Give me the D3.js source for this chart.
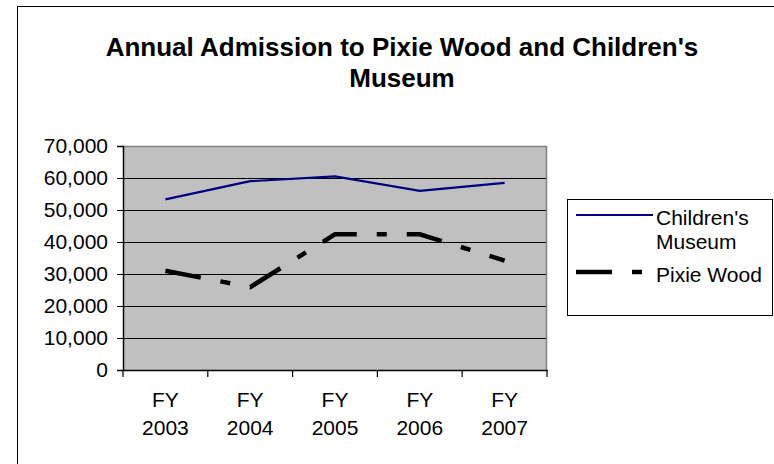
<!DOCTYPE html>
<html><head><meta charset="utf-8">
<script src="https://cdn.jsdelivr.net/npm/d3@7"></script>
<style>body{margin:0;background:#fff}svg{display:block}text{font-family:"Liberation Sans",Arial,sans-serif}</style>
</head><body>
<svg id="c" width="774" height="464"></svg>
<script>
const categories = ["FY 2003","FY 2004","FY 2005","FY 2006","FY 2007"];
const childrensMuseum = [53300, 59000, 60500, 56000, 58500];
const pixieWood = [31000, 25900, 42400, 42400, 34200];
const yTicks = [0,10000,20000,30000,40000,50000,60000,70000];
const seriesNames = ["Children's Museum", "Pixie Wood"];
const titleLines = ["Annual Admission to Pixie Wood and Children's", "Museum"];

const FS = 21;
const svg = d3.select("#c");
svg.append("rect").attr("x",17.5).attr("y",6.5).attr("width",800).attr("height",500)
  .attr("fill","#fff").attr("stroke","#000").attr("stroke-width",1);

const L=123, R=547, T=146, B=370;
const x = d3.scaleBand().domain(categories).range([L,R]);
const y = d3.scaleLinear().domain([0,70000]).range([B,T]);

svg.append("rect").attr("x",L).attr("y",T).attr("width",R-L).attr("height",B-T).attr("fill","#C0C0C0");
svg.append("g").selectAll("line").data(yTicks.slice(1)).join("line")
  .attr("x1",L).attr("x2",R).attr("y1",d=>Math.round(y(d))+0.5).attr("y2",d=>Math.round(y(d))+0.5)
  .attr("stroke","#000").attr("stroke-width",1);
svg.append("line").attr("x1",R-0.5).attr("x2",R-0.5).attr("y1",T).attr("y2",B).attr("stroke","#808080").attr("stroke-width",1.5);
svg.append("line").attr("x1",L).attr("x2",R).attr("y1",T+0.5).attr("y2",T+0.5).attr("stroke","#808080").attr("stroke-width",1.5);

const yAxis = svg.append("g").attr("transform",`translate(${L},0)`)
  .call(d3.axisLeft(y).tickValues(yTicks).tickFormat(d3.format(",")).tickSize(6).tickPadding(9));
const xAxis = svg.append("g").attr("transform",`translate(0,${B})`)
  .call(d3.axisBottom(x).tickSize(0).tickFormat(""));
[yAxis,xAxis].forEach(g=>{g.select(".domain").attr("stroke","#000").attr("stroke-width",1.5);
  g.selectAll(".tick line").attr("stroke","#000");});
yAxis.selectAll(".tick text").attr("font-size",FS).attr("fill","#000").attr("font-family","Liberation Sans, Arial, sans-serif");
const bounds = categories.map(c=>x(c)).concat([R]);
svg.append("g").selectAll("line").data(bounds).join("line")
  .attr("x1",d=>d).attr("x2",d=>d).attr("y1",B).attr("y2",B+7).attr("stroke","#000").attr("stroke-width",1.2);
const xl = svg.append("g").selectAll("text").data(categories).join("text")
  .attr("x",d=>x(d)+x.bandwidth()/2).attr("y",407).attr("text-anchor","middle").attr("font-size",FS).attr("fill","#000");
xl.each(function(d){const p=d.split(" ");const t=d3.select(this);
  t.append("tspan").attr("x",x(d)+x.bandwidth()/2).text(p[0]);
  t.append("tspan").attr("x",x(d)+x.bandwidth()/2).attr("dy",28).text(p[1]);});

const line = d3.line().x((d,i)=>x(categories[i])+x.bandwidth()/2).y(d=>y(d));
svg.append("path").datum(childrensMuseum).attr("d",line).attr("fill","none").attr("stroke","#000080").attr("stroke-width",2.2);
svg.append("path").datum(pixieWood).attr("d",line).attr("fill","none").attr("stroke","#000").attr("stroke-width",4.5)
  .attr("stroke-dasharray","36,20,10,20").attr("stroke-linejoin","miter");

svg.append("g").selectAll("text").data(titleLines).join("text")
  .attr("x",402).attr("y",(d,i)=>56+i*31).attr("text-anchor","middle").attr("font-weight","bold").attr("font-size",26).attr("fill","#000").text(d=>d);

svg.append("rect").attr("x",567.5).attr("y",199.5).attr("width",205).attr("height",116).attr("fill","#fff").attr("stroke","#000").attr("stroke-width",1);
svg.append("line").attr("x1",576).attr("x2",653).attr("y1",215).attr("y2",215).attr("stroke","#000080").attr("stroke-width",2.2);
svg.append("line").attr("x1",576).attr("x2",643).attr("y1",272).attr("y2",272).attr("stroke","#000").attr("stroke-width",4.5).attr("stroke-dasharray","36,20,10,20");
const lt = svg.append("text").attr("x",656).attr("y",225).attr("font-size",FS).attr("fill","#000");
lt.append("tspan").attr("x",656).text("Children's");
lt.append("tspan").attr("x",656).attr("dy",24).text("Museum");
svg.append("text").attr("x",656).attr("y",282).attr("font-size",FS).attr("fill","#000").text(seriesNames[1]);
</script>
</body></html>
